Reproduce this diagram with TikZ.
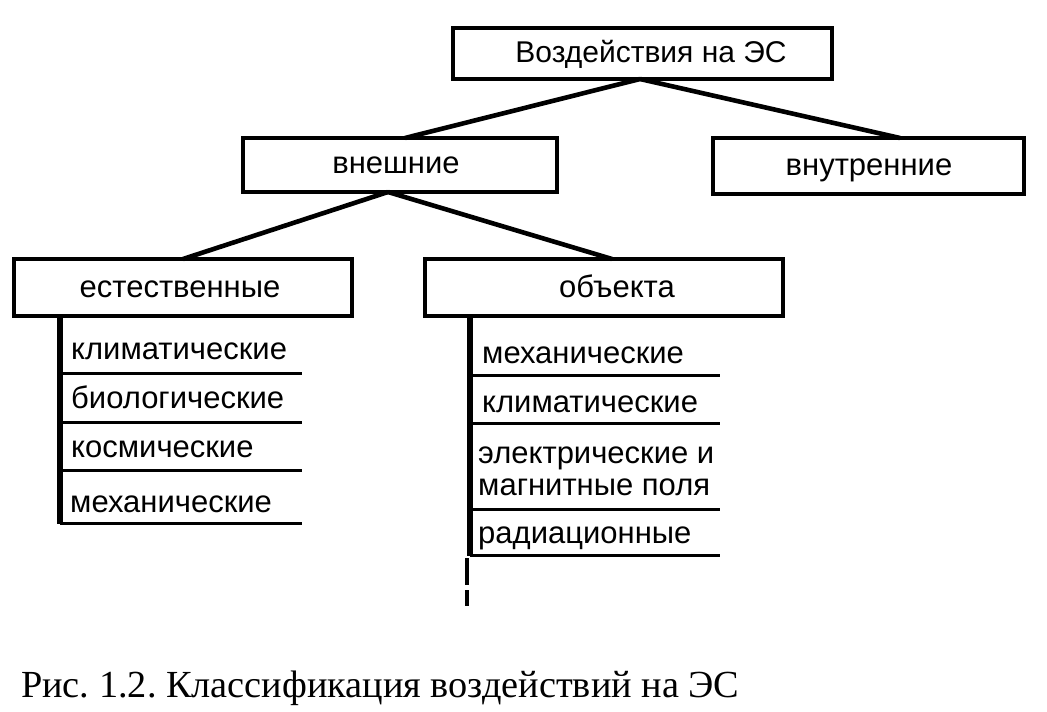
\documentclass[tikz,border=0pt]{standalone}
\usepackage{fontspec}
\setmainfont{Liberation Sans}
\newfontfamily\capfont{Liberation Serif}
\frenchspacing
\begin{document}
\begin{tikzpicture}[x=1pt,y=-1pt,
  box/.style={draw,line width=3.2pt},
  lbl/.style={anchor=base,inner sep=0pt,font=\fontsize{31}{34}\selectfont},
  conn/.style={line width=4.6pt},
  trunk/.style={line width=5.5pt},
  rule/.style={line width=3pt},
  item/.style={anchor=base west,inner sep=0pt,font=\fontsize{31}{34}\selectfont}]
\useasboundingbox (0,0) rectangle (1047,712);
% boxes
\draw[box] (453,28) rectangle (832,79);
\node[lbl,font=\fontsize{30}{33}\selectfont] (top) at (651,62) {Воздействия на ЭС};
\coordinate (topB) at (640,79);
\draw[box] (243,138) rectangle (557,192);
\node[lbl] (ext) at (396,173) {внешние};
\coordinate (extT) at (405,138);
\coordinate (extB) at (388,192);
\draw[box] (713,138) rectangle (1024,194);
\node[lbl] (int) at (869,175) {внутренние};
\coordinate (intT) at (900,138);
\draw[box] (14,259) rectangle (352,316);
\node[lbl] (nat) at (180,297) {естественные};
\coordinate (natT) at (183,259);
\draw[box] (425,259) rectangle (783,316);
\node[lbl] (obj) at (617,297) {объекта};
\coordinate (objT) at (612,259);
% connectors
\draw[conn] (topB) -- (extT);
\draw[conn] (topB) -- (intT);
\draw[conn] (extB) -- (natT);
\draw[conn] (extB) -- (objT);
% left list
\coordinate (l0) at (60,316);
\coordinate (l4) at (60,524);
\draw[trunk] (l0) -- (l4);
\foreach \y in {373,422,470,523} \draw[rule] (60,\y) -- (302,\y);
\node[item] at (71,359) {климатические};
\node[item] at (71,408) {биологические};
\node[item] at (71,457) {космические};
\node[item] at (70,512) {механические};
% right list
\coordinate (r0) at (470,316);
\coordinate (r4) at (470,556);
\draw[trunk] (r0) -- (r4);
\foreach \y in {375,423,509,555} \draw[rule] (470,\y) -- (720,\y);
\node[item] at (482,363) {механические};
\node[item] at (482,412) {климатические};
\node[item] at (478,463) {электрические и};
\node[item] at (478,495) {магнитные поля};
\node[item] at (478,543) {радиационные};
\coordinate (d0) at (467,558);
\coordinate (d1) at (467,606);
\draw[line width=3.2pt,dash pattern=on 27pt off 5pt] (d0) -- (d1);
% caption
\node[anchor=base west,inner sep=0pt,font=\capfont\fontsize{38.3}{42}\selectfont] (cap) at (21,697) {Рис. 1.2. Классификация воздействий на ЭС};
\end{tikzpicture}
\end{document}
